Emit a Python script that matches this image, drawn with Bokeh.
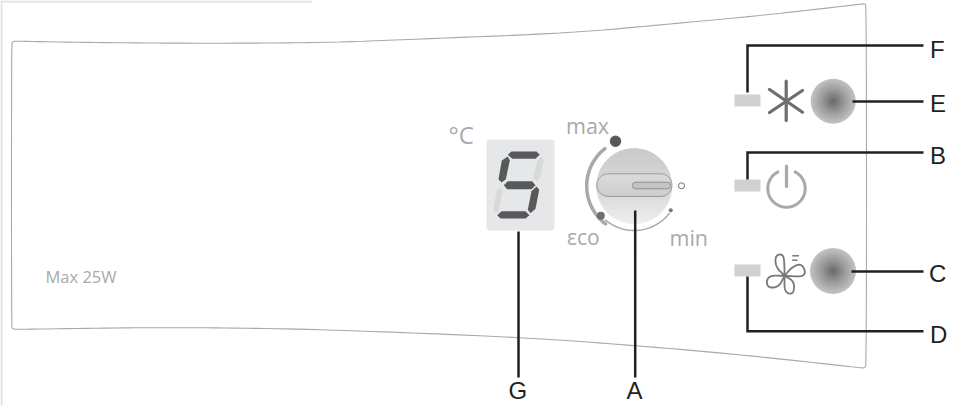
from bokeh.plotting import figure
from bokeh.models import Range1d
from bokeh.core.properties import value
from bokeh.embed import file_html
from bokeh.resources import INLINE
import numpy as np

W, H = 953, 406

# --- labels ---
letters = ["F", "E", "B", "C", "D", "G", "A"]
letter_x = [929.5, 929.5, 929.5, 928.5, 929.5, 508, 626]
letter_y = [48.5, 102.8, 154.8, 273.2, 333.8, 390, 390]
grey_labels = ["max", "min", "\u03b5co", "\u00b0C", "Max 25W"]
grey_x = [565.5, 669, 566.5, 448, 45]
grey_y = [125, 237, 236, 134, 276]
grey_px = ["21.5px", "21.5px", "21px", "24px", "16.5px"]

# --- panel outline ---
panel_x = [14, 90, 170, 250, 330, 433, 571, 675, 761, 861, 864, 866, 866, 864, 861, 744, 635, 518, 330, 250, 170, 90, 14, 12, 11, 11, 12, 14]
panel_y = [40.7, 42, 42.7, 42.7, 42, 38, 32.5, 23, 15, 3.6, 3.2, 5, 365, 367.4, 367.4, 354.5, 345, 336.6, 329.3, 327.7, 327, 327.7, 329, 328, 326, 44, 41.5, 40.7]

# --- leader lines ---
lead_x = [[747, 747, 923], [852, 923], [747, 747, 923], [851, 923], [747, 747, 923], [518, 518], [634.7, 634.7]]
lead_y = [[92, 45, 45], [101, 101], [179, 152, 152], [271, 271], [276, 330.7, 330.7], [231, 377], [210, 377]]

# --- LEDs ---
led_left = [734, 734, 734]
led_right = [760, 760, 760]
led_top = [94, 179, 264]
led_bottom = [106, 191, 276]

# --- seven-segment digit ---
seg_dark_x = [[507.3, 511, 536, 539.3, 535, 511.7], [507.3, 509.3, 505.3, 501, 498, 501.3], [503.3, 507.3, 531.7, 535, 531, 506.7], [536, 538.7, 535, 530, 527.3, 531], [496.7, 501, 525, 529, 525, 500]]
seg_dark_y = [[154.3, 151, 151, 154.3, 158.3, 158.3], [156, 160, 178.7, 182, 178.7, 160], [184.7, 180.7, 180.7, 184.7, 188.7, 188.7], [186, 189.3, 208.3, 212.7, 209.3, 190.7], [214.7, 210.7, 210.7, 214.7, 218, 218]]
seg_light_x = [[540.7, 543.3, 539.3, 536, 532.7, 536.7], [499, 502.3, 498.3, 495, 492.7, 496]]
seg_light_y = [[156, 159.3, 178.3, 181, 177.3, 160], [187.3, 190.7, 210, 213.3, 209.3, 190.7]]

# --- buttons (centre x, centre y, radius) ---
btn_x = [832.7, 832.5]
btn_y = [100.7, 270.5]
btn_r = [22.5, 23]

# --- knob ---
knob_cx, knob_cy, knob_r = 633.7, 185.5, 37.8
dot_x = [615, 600.3, 670.3]
dot_y = [140.7, 215.3, 209.7]
dot_r = [5.7, 4, 2]

# --- icons ---
snow_x = [[785.7, 785.7], [769, 802], [769, 802]]
snow_y = [[80.7, 120], [89, 111.7], [112, 90]]
fan_x = [
    [784, 775, 775, 783, 784, 784],
    [784, 792, 802, 806, 784],
    [784, 794, 793, 784, 784],
    [784, 767, 766, 778, 784],
]
fan_y = [
    [275.3, 266, 254.5, 253.5, 266, 275.3],
    [275.3, 266, 263, 276.5, 275.3],
    [275.3, 281, 294, 292, 275.3],
    [275.3, 275, 287, 287, 275.3],
]
fan_bar_x = [[791.7, 798.5], [791.7, 797]]
fan_bar_y = [[255.3, 255.3], [259.7, 259.7]]

GREY = "#a7a9ac"
DARK = "#58595b"


def mix(c0, c1, t):
    a = np.array([int(c0[i:i + 2], 16) for i in (1, 3, 5)])
    b = np.array([int(c1[i:i + 2], 16) for i in (1, 3, 5)])
    v = (a + (b - a) * t).round().astype(int)
    return "#%02x%02x%02x" % tuple(v)


def arc(cx, cy, r, a0, a1, n=40):
    t = np.radians(np.linspace(a0, a1, n))
    return cx + r * np.cos(t), cy + r * np.sin(t)


def smooth(xs, ys, it=3):
    x, y = np.array(xs, float), np.array(ys, float)
    for _ in range(it):
        qx = 0.75 * x[:-1] + 0.25 * x[1:]
        qy = 0.75 * y[:-1] + 0.25 * y[1:]
        rx = 0.25 * x[:-1] + 0.75 * x[1:]
        ry = 0.25 * y[:-1] + 0.75 * y[1:]
        x = np.concatenate([[x[0]], np.column_stack([qx, rx]).ravel(), [x[-1]]])
        y = np.concatenate([[y[0]], np.column_stack([qy, ry]).ravel(), [y[-1]]])
    return x, y


p = figure(width=W, height=H, x_range=Range1d(0, W), y_range=Range1d(H, 0),
           output_backend="svg", toolbar_location=None, min_border=0,
           background_fill_color="white", border_fill_color="white")
p.axis.visible = False
p.grid.visible = False
p.outline_line_color = None

# scan border top-left
p.quad(left=[0, 0], right=[312, 2], top=[0, 0], bottom=[2, H], fill_color="#e1e1e1", line_color=None)

# panel
sx_, sy_ = smooth(panel_x, panel_y)
p.line(sx_, sy_, line_color="#a9a9a9", line_width=1.1)

# digit backing
bx0, bx1, by0, by1, rr = 486, 554, 139, 230, 3
cx = [arc(bx1 - rr, by0 + rr, rr, -90, 0, 5), arc(bx1 - rr, by1 - rr, rr, 0, 90, 5),
      arc(bx0 + rr, by1 - rr, rr, 90, 180, 5), arc(bx0 + rr, by0 + rr, rr, 180, 270, 5)]
p.patch(np.concatenate([c[0] for c in cx]), np.concatenate([c[1] for c in cx]), fill_color="#e6e7e8", line_color=None)
p.patches(seg_light_x, seg_light_y, fill_color="#d8d9da", line_color=None)
p.patches(seg_dark_x, seg_dark_y, fill_color=DARK, line_color=None)

# knob arcs
ax, ay = arc(knob_cx, knob_cy, 47.5, 127, 232)
p.line(ax, ay, line_color=GREY, line_width=3.5, line_cap="round")
ax, ay = arc(knob_cx, knob_cy, 44.5, 38, 130)
p.line(ax, ay, line_color=GREY, line_width=1.5, line_cap="round")
p.circle(dot_x, dot_y, radius=dot_r, fill_color=[DARK, "#6d6e71", "#77787b"], line_color=None)
p.circle([681], [185.3], radius=3, fill_color="white", line_color="#6d6e71", line_width=1)

# knob body: horizontal gradient strips
ys = np.arange(knob_cy - knob_r, knob_cy + knob_r, 0.5)
half = np.sqrt(np.clip(knob_r ** 2 - (ys + 0.25 - knob_cy) ** 2, 0, None))
cols = []
for y in ys:
    t = (y - (knob_cy - knob_r)) / (2 * knob_r)
    cols.append(mix("#c4c4c4", "#d6d6d6", t / 0.6) if t < 0.6 else mix("#d6d6d6", "#eeeeee", (t - 0.6) / 0.4))
p.quad(left=knob_cx - half, right=knob_cx + half, top=ys, bottom=ys + 0.7, fill_color=cols, line_color=None)

# pill
px0, px1, py0, py1 = 596.3, 671.5, 173.3, 196
pr = (py1 - py0) / 2
lx, ly = arc(px0 + pr, py0 + pr, pr, 90, 270, 16)
rx, ry = arc(px1 - pr, py0 + pr, pr, -90, 90, 16)
ys2 = np.arange(py0, py1, 0.5)
off = pr - np.sqrt(np.clip(pr ** 2 - (ys2 + 0.25 - py0 - pr) ** 2, 0, None))
p.quad(left=px0 + off, right=px1 - off, top=ys2, bottom=ys2 + 0.7,
       fill_color=[mix("#dcdcdc", "#cbcbcb", (y - py0) / (py1 - py0)) for y in ys2], line_color=None)
p.patch(np.concatenate([lx, rx]), np.concatenate([ly, ry]), fill_color=None, line_color="#9b9b9b", line_width=1)
# inner slot
sx0, sx1, sy0, sy1 = 632, 670, 181.7, 188.3
p.quad(left=[sx0], right=[sx1], top=[sy0], bottom=[sy1], fill_color="#c4c4c4", line_color="#909090", line_width=1,
       border_radius=3)

# LEDs
p.quad(left=led_left, right=led_right, top=led_top, bottom=led_bottom, fill_color="#d0d1d3", line_color=None)

# snow
p.multi_line(snow_x, snow_y, line_color="#6d6e71", line_width=3.2, line_cap="round")
# power
ax, ay = arc(786, 188, 18.7, -66, 246, 60)
p.line(ax, ay, line_color=GREY, line_width=3)
p.line([786, 786], [165.5, 186], line_color=GREY, line_width=3.2, line_cap="round")
# fan
for fx, fy in zip(fan_x, fan_y):
    sfx, sfy = smooth(fx, fy, 3)
    p.line(sfx, sfy, line_color="#77787b", line_width=1.8, line_join="round")
p.multi_line(fan_bar_x, fan_bar_y, line_color="#77787b", line_width=1.5)

# buttons: radial gradient rings
for bx, by, br in zip(btn_x, btn_y, btn_r):
    n = 32
    rs = np.linspace(br, 0.7, n)
    fr = rs / br
    c = [mix("#686868", "#9d9d9d", f / 0.55) if f < 0.55 else mix("#9d9d9d", "#c2c2c3", (f - 0.55) / 0.45) for f in fr]
    p.circle([bx] * n, [by] * n, radius=rs, fill_color=c, line_color=None)

# leader lines
p.multi_line(lead_x, lead_y, line_color="#231f20", line_width=2.5, line_join="miter")

# texts
p.text(letter_x, letter_y, text=letters, text_font=value("Liberation Sans"), text_font_size="24px",
       text_color="#231f20", text_baseline="alphabetic", text_align="left")
for s, x, y, sz in zip(grey_labels, grey_x, grey_y, grey_px):
    p.text([x], [y], text=[s], text_font=value("Open Sans"), text_font_size=sz, text_color=GREY,
           text_baseline="alphabetic", text_align="left")

open("out.html", "w").write(file_html(p, INLINE))
